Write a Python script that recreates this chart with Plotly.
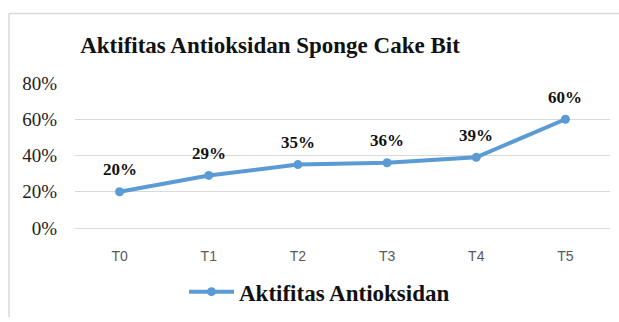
import plotly.graph_objects as go

categories = ["T0", "T1", "T2", "T3", "T4", "T5"]
values = [0.20, 0.29, 0.35, 0.36, 0.39, 0.60]
labels = ["20%", "29%", "35%", "36%", "39%", "60%"]
y_ticks = [0, 0.2, 0.4, 0.6, 0.8]
y_tick_text = ["0%", "20%", "40%", "60%", "80%"]

W, H = 619, 322
L, R, T, B = 75, 9, 83, 91
pw, ph = W - L - R, H - T - B
SERIF = "Liberation Serif, Times New Roman, Times, serif"

def px_x(x):
    return (x - L) / pw

def px_y(y):
    return (H - B - y) / ph

fig = go.Figure()
fig.add_trace(go.Scatter(
    x=categories, y=values, mode="lines+markers",
    name="<b>Aktifitas Antioksidan</b>",
    line=dict(color="#5b9bd5", width=4),
    marker=dict(color="#5b9bd5", size=9),
))

for c, v, t in zip(categories, values, labels):
    fig.add_annotation(x=c, y=v, text=f"<b>{t}</b>", showarrow=False,
                       yshift=22, font=dict(family=SERIF, size=17, color="#111"))

fig.update_layout(
    width=W, height=H,
    margin=dict(l=L, r=R, t=T, b=B),
    paper_bgcolor="white", plot_bgcolor="white",
    title=dict(text="<b>Aktifitas Antioksidan Sponge Cake Bit</b>",
               x=270 / W, xanchor="center", xref="container",
               y=1 - 45 / H, yanchor="middle", yref="container",
               font=dict(family=SERIF, size=23, color="#111")),
    xaxis=dict(type="category", range=[-0.5, 5.5], showgrid=False,
               showline=True, linecolor="#d9d9d9", linewidth=1,
               zeroline=False, ticks="", ticklabelstandoff=15,
               tickfont=dict(family="Liberation Sans", size=14, color="#595959")),
    yaxis=dict(range=[0, 0.8], tickvals=y_ticks, ticktext=y_tick_text,
               showgrid=True, gridcolor="#d9d9d9", gridwidth=1, zeroline=False,
               showline=False, ticks="", ticklabelstandoff=17,
               tickfont=dict(family=SERIF, size=19, color="#222")),
    showlegend=True,
    legend=dict(orientation="h", x=px_x(184), xanchor="left",
                y=px_y(296), yanchor="middle",
                font=dict(family=SERIF, size=23, color="#111"),
                itemwidth=45),
    shapes=[
        dict(type="line", xref="paper", yref="paper", x0=px_x(9), x1=px_x(619),
             y0=px_y(12), y1=px_y(12), line=dict(color="#d9d9d9", width=1.5)),
        dict(type="line", xref="paper", yref="paper", x0=px_x(9), x1=px_x(9),
             y0=px_y(12), y1=px_y(322), line=dict(color="#d9d9d9", width=1.5)),
    ],
)

fig.write_html("out.html")
